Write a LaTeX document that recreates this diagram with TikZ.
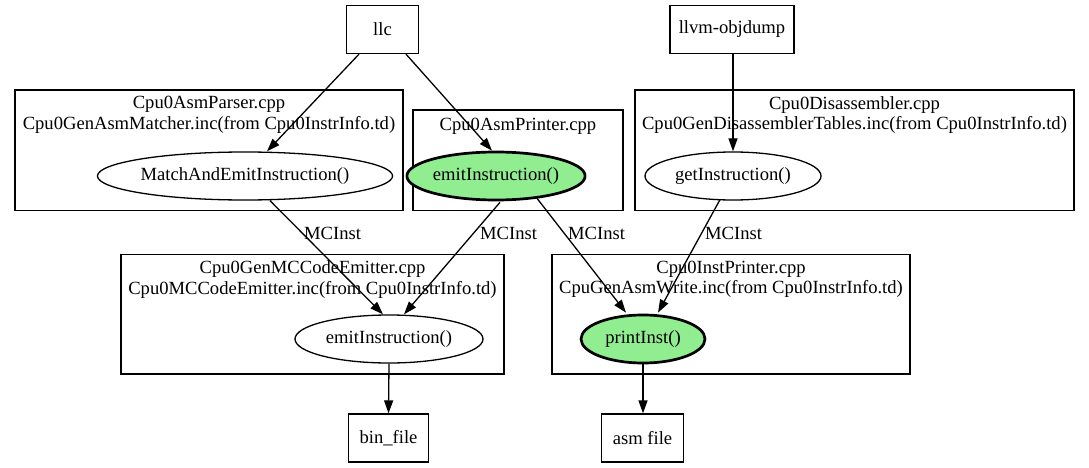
\documentclass[tikz,border=0pt]{standalone}
\usepackage{fontspec}
\setmainfont{Liberation Serif}
\usetikzlibrary{shapes.geometric,arrows.meta}
\definecolor{lightgreen}{HTML}{90EE90}
\tikzset{
  txt/.style={font=\fontsize{18.6}{20.5}\selectfont},
  boxnode/.style={txt,draw,line width=1.3pt,rectangle,minimum height=48pt,inner sep=0pt},
  ell/.style={txt,draw,line width=1.3pt,ellipse,minimum height=48pt,inner sep=0pt},
  boldell/.style={ell,fill=lightgreen,line width=2.7pt},
  cluster/.style={draw,line width=1.3pt,rectangle,inner sep=0pt},
  clabel/.style={txt,align=center,inner sep=0pt},
  elabel/.style={txt,anchor=west,inner sep=0pt},
  edge/.style={line width=1.3pt,-{Triangle[length=13pt,width=9pt]}}
}
\begin{document}
\begin{tikzpicture}[x=1pt,y=-1pt]
\useasboundingbox (0,0) rectangle (1089,468);
% clusters
\node[cluster,minimum width=388pt,minimum height=120.7pt] (c1) at (209,150.35) {};
\node[cluster,minimum width=210pt,minimum height=100.7pt] (c2) at (518,160.35) {};
\node[cluster,minimum width=439pt,minimum height=120.7pt] (c3) at (854.5,150.35) {};
\node[cluster,minimum width=383pt,minimum height=119.5pt] (c4) at (312.5,314.25) {};
\node[cluster,minimum width=358pt,minimum height=119.5pt] (c5) at (731,314.25) {};
\node[clabel] (l1) at (209,115) {Cpu0AsmParser.cpp\\Cpu0GenAsmMatcher.inc(from Cpu0InstrInfo.td)};
\node[clabel] (l2) at (518,126) {Cpu0AsmPrinter.cpp};
\node[clabel] (l3) at (854.5,115) {Cpu0Disassembler.cpp\\Cpu0GenDisassemblerTables.inc(from Cpu0InstrInfo.td)};
\node[clabel] (l4) at (312.5,279.5) {Cpu0GenMCCodeEmitter.cpp\\Cpu0MCCodeEmitter.inc(from Cpu0InstrInfo.td)};
\node[clabel] (l5) at (731,279.5) {Cpu0InstPrinter.cpp\\CpuGenAsmWrite.inc(from Cpu0InstrInfo.td)};
% nodes
\node[boxnode,minimum width=72pt] (llc) at (382.5,29.5) {llc};
\node[boxnode,minimum width=124pt] (od) at (732,29.5) {llvm-objdump};
\node[ell,minimum width=294pt] (m) at (245,176) {MatchAndEmitInstruction()};
\node[boldell,minimum width=146pt] (ea) at (496,176) {emitInstruction()};
\node[ell,minimum width=176pt] (gi) at (733,176) {getInstruction()};
\node[ell,minimum width=188pt] (eb) at (389,339) {emitInstruction()};
\node[boldell,minimum width=124pt] (pi) at (643,339) {printInst()};
\node[boxnode,minimum width=80pt] (bin) at (388.5,438) {bin\_file};
\node[boxnode,minimum width=82pt] (asm) at (642.5,438) {asm file};
% edges
\draw[edge] ([xshift=-23.5pt]llc.south) -- ([xshift=22pt]m.north);
\draw[edge] ([xshift=23.5pt]llc.south) -- ([xshift=-4pt]ea.north);
\draw[edge] ([xshift=1pt]od.south) -- (gi.north);
\draw[edge] ([xshift=25pt]m.south) -- ([xshift=-6pt]eb.north);
\draw[edge] ([xshift=4pt,yshift=-1pt]ea.south) -- ([xshift=15pt]eb.north);
\draw[edge] ([xshift=41pt,yshift=3pt]ea.south) -- ([xshift=-17pt,yshift=1pt]pi.north);
\draw[edge] ([xshift=-13pt,yshift=1pt]gi.south) -- ([xshift=15pt,yshift=1pt]pi.north);
\draw[edge] (eb.south) -- (bin.north);
\draw[edge] (pi.south) -- ([xshift=0.5pt]asm.north);
% edge labels
\node[elabel] (e1) at (304,233) {MCInst};
\node[elabel] (e2) at (480,233) {MCInst};
\node[elabel] (e3) at (568,233) {MCInst};
\node[elabel] (e4) at (705,233) {MCInst};
\end{tikzpicture}
\end{document}
